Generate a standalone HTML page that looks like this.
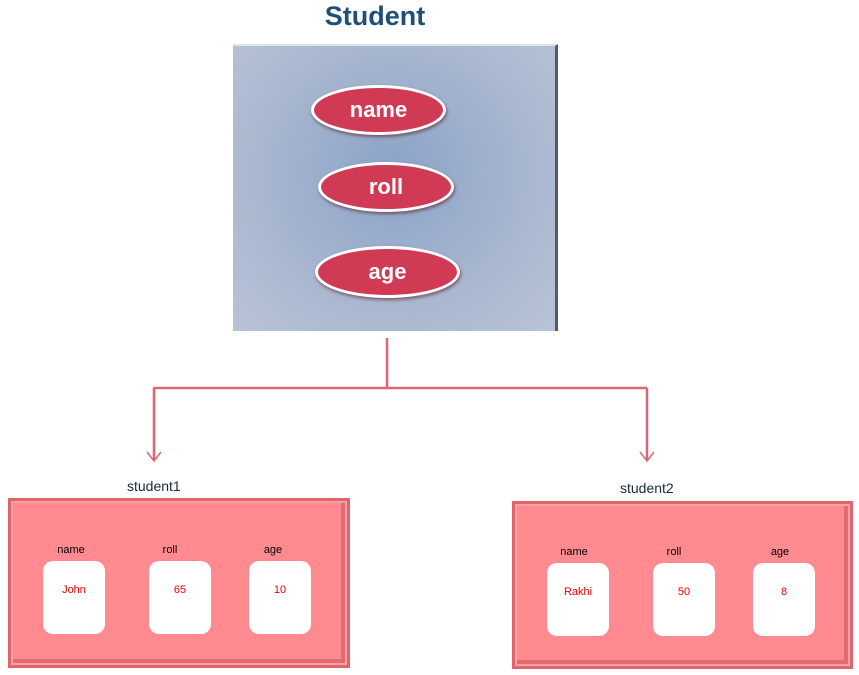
<!DOCTYPE html>
<html><head><style>
body{margin:0;width:859px;height:675px;background:#fff;position:relative;font-family:"Liberation Sans",sans-serif;overflow:hidden}
.a{position:absolute}
.title{left:300px;top:1px;width:150px;text-align:center;font:bold 27px "Liberation Sans",sans-serif;color:#1f4e79}
.main{left:233px;top:44px;width:325px;height:287px;background:radial-gradient(ellipse at 50% 45%,#8aa3c8 0%,#a9b7cf 60%,#b9c3d5 100%);border-top:2px solid #dbe3f0;border-right:3px solid #555b66;box-sizing:border-box}
.el{position:absolute;background:#d03a55;border:3px solid #fff;border-radius:50%;box-shadow:1px 2px 3px rgba(80,0,0,.5);color:#fff;font:bold 22px "Liberation Sans",sans-serif;display:flex;align-items:center;justify-content:center;box-sizing:border-box}
.obj{position:absolute;background:#ff8a8f;border:3px solid #e0656b;box-shadow:inset 0 0 0 2px #ffa0a4, inset -2px -2px 0 4px #e06c72;box-sizing:border-box}
.lab{position:absolute;font-size:11px;color:#000;text-align:center;width:62px}
.cell{position:absolute;background:#fff;border-radius:10px;width:62px;height:73px;color:#e00;font-size:11px;text-align:center;padding-top:22px;box-sizing:border-box}
.cap{position:absolute;font-size:14px;color:#1a2a3a}
</style></head><body>
<div class="a title">Student</div>
<div class="a main"></div>
<div class="el" style="left:311px;top:85px;width:135px;height:50px">name</div>
<div class="el" style="left:318px;top:162px;width:136px;height:50px">roll</div>
<div class="el" style="left:315px;top:246px;width:145px;height:52px">age</div>
<svg class="a" style="left:0;top:0" width="859" height="675">
<g stroke="#e06478" stroke-width="2" fill="none">
<path d="M387 338 V388 M153 388 H647 M154 388 V460 M647 388 V460" stroke-width="2.5"/>
<path d="M147 452 L154 461 L161 452 M640 452 L647 461 L654 452" stroke-width="1.5"/>
</g></svg>
<div class="cap" style="left:127px;top:478px">student1</div>
<div class="cap" style="left:620px;top:480px">student2</div>
<div class="obj" style="left:8px;top:498px;width:342px;height:170px"></div>
<div class="lab" style="left:40px;top:544px">name</div>
<div class="lab" style="left:139px;top:544px">roll</div>
<div class="lab" style="left:242px;top:544px">age</div>
<div class="cell" style="left:43px;top:561px;padding-top:23px">John</div>
<div class="cell" style="left:149px;top:561px;padding-top:23px">65</div>
<div class="cell" style="left:249px;top:561px;padding-top:23px">10</div>
<div class="obj" style="left:512px;top:501px;width:341px;height:168px"></div>
<div class="lab" style="left:543px;top:546px">name</div>
<div class="lab" style="left:643px;top:546px">roll</div>
<div class="lab" style="left:749px;top:546px">age</div>
<div class="cell" style="left:547px;top:563px;padding-top:23px">Rakhi</div>
<div class="cell" style="left:653px;top:563px;padding-top:23px">50</div>
<div class="cell" style="left:753px;top:563px;padding-top:23px">8</div>
</body></html>
